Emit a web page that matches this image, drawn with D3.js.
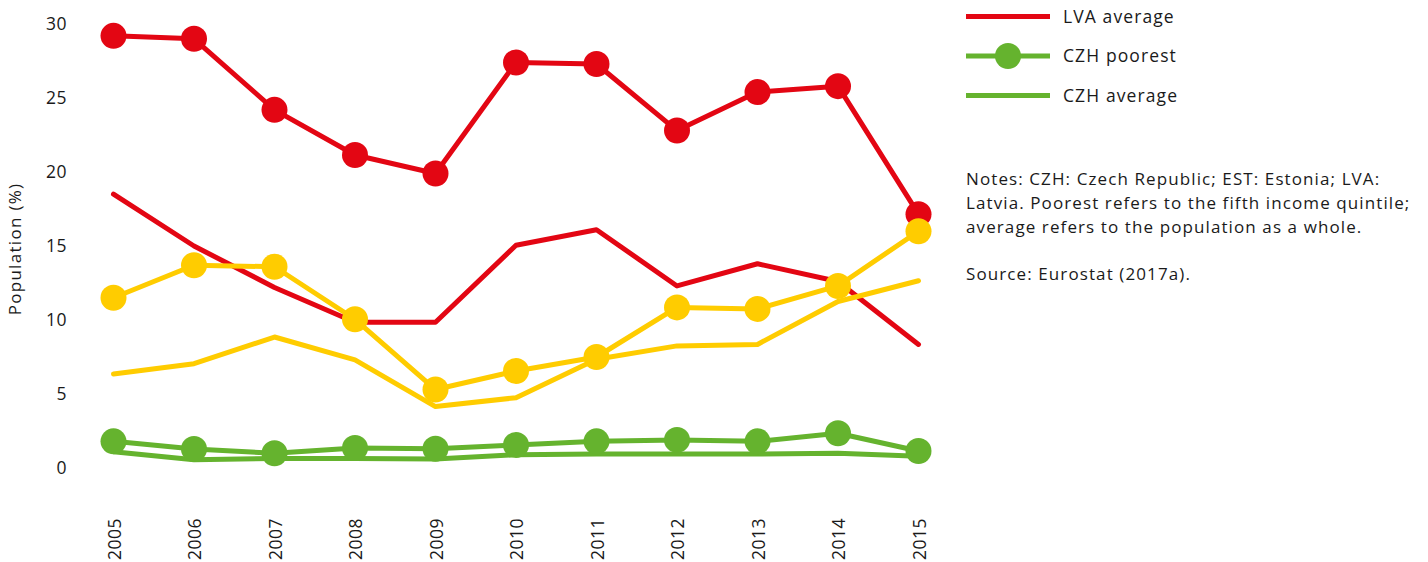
<!DOCTYPE html>
<html lang="en">
<head>
  <meta charset="UTF-8">
  <script src="https://cdn.jsdelivr.net/npm/d3@7"></script>
  <title>Population (%)</title>
  <style>
    body { margin: 0; background: #fff; }
    text { font-family: "Open Sans", "Noto Sans", sans-serif; fill: #1a1a1a; }
    .line { fill: none; stroke-width: 5; stroke-linejoin: round; stroke-linecap: round; }
  </style>
</head>
<body>
  <script>
    // data
    const years = [2005, 2006, 2007, 2008, 2009, 2010, 2011, 2012, 2013, 2014, 2015];
    const lvaPoorest = [29.2, 29.0, 24.2, 21.15, 19.9, 27.4, 27.3, 22.8, 25.4, 25.8, 17.15];
    const lvaAverage = [18.5, 15.0, 12.2, 9.85, 9.85, 15.05, 16.1, 12.3, 13.8, 12.6, 8.35];
    const estPoorest = [11.5, 13.7, 13.6, 10.05, 5.3, 6.55, 7.5, 10.85, 10.75, 12.3, 16.0];
    const estAverage = [6.35, 7.05, 8.85, 7.3, 4.15, 4.75, 7.35, 8.25, 8.35, 11.25, 12.65];
    const czhPoorest = [1.8, 1.28, 1.0, 1.35, 1.3, 1.55, 1.8, 1.9, 1.8, 2.35, 1.15];
    const czhAverage = [1.1, 0.55, 0.65, 0.65, 0.6, 0.9, 0.95, 0.95, 0.95, 1.0, 0.8];
    const yTicks = [0, 5, 10, 15, 20, 25, 30];

    const red = '#e30613', yellow = '#ffcc00', green = '#65b32e';

    // drawing order matters: later series sit on top
    const series = [
      { name: 'LVA average', values: lvaAverage, color: red, marker: false },
      { name: 'LVA poorest', values: lvaPoorest, color: red, marker: true },
      { name: 'EST average', values: estAverage, color: yellow, marker: false },
      { name: 'EST poorest', values: estPoorest, color: yellow, marker: true },
      { name: 'CZH average', values: czhAverage, color: green, marker: false },
      { name: 'CZH poorest', values: czhPoorest, color: green, marker: true }
    ];
    const legendItems = ['LVA average', 'CZH poorest', 'CZH average'];

    const svg = d3.select('body').append('svg')
      .attr('width', 1428)
      .attr('height', 562);

    const x = d3.scalePoint().domain(years).range([113.5, 918.5]);
    const y = d3.scaleLinear().domain([0, 30]).range([468, 24]);

    /********** y axis labels **********/
    svg.append('g').selectAll('text.ytick')
      .data(yTicks).enter()
      .append('text').attr('class', 'ytick')
      .attr('x', 67)
      .attr('y', d => y(d))
      .attr('dy', '0.35em')
      .attr('text-anchor', 'end')
      .style('font-size', '17.5px')
      .style('letter-spacing', '0.5px')
      .text(d => d);

    svg.append('text')
      .attr('transform', 'translate(15,249) rotate(-90)')
      .attr('text-anchor', 'middle')
      .attr('dy', '0.35em')
      .style('font-size', '17px')
      .style('letter-spacing', '1.3px')
      .text('Population (%)');

    /********** x axis labels **********/
    svg.append('g').selectAll('text.xtick')
      .data(years).enter()
      .append('text').attr('class', 'xtick')
      .attr('transform', d => `translate(${x(d) + 1},518) rotate(-90)`)
      .attr('text-anchor', 'end')
      .attr('dy', '0.35em')
      .style('font-size', '17.5px')
      .style('letter-spacing', '0.5px')
      .text(d => d);

    /********** lines + markers **********/
    const line = d3.line()
      .x((d, i) => x(years[i]))
      .y(d => y(d));

    series.forEach(s => {
      const g = svg.append('g');
      g.append('path').attr('class', 'line')
        .attr('d', line(s.values))
        .attr('stroke', s.color);
      if (s.marker) {
        g.selectAll('circle')
          .data(s.values).enter()
          .append('circle')
          .attr('cx', (d, i) => x(years[i]))
          .attr('cy', d => y(d))
          .attr('r', 13)
          .attr('fill', s.color);
      }
    });

    /********** legend **********/
    const lg = svg.selectAll('g.legend')
      .data(legendItems.map(n => series.find(s => s.name === n))).enter()
      .append('g').attr('class', 'legend')
      .attr('transform', (d, i) => `translate(966,${16.5 + i * 39.5})`);
    lg.append('line')
      .attr('x1', 0).attr('x2', 84)
      .attr('stroke', d => d.color)
      .attr('stroke-width', 5);
    lg.filter(d => d.marker).append('circle')
      .attr('cx', 42).attr('r', 13)
      .attr('fill', d => d.color);
    lg.append('text')
      .attr('x', 97)
      .attr('dy', '0.35em')
      .style('font-size', '17.5px')
      .style('letter-spacing', '1.1px')
      .text(d => d.name);

    /********** notes **********/
    const notes = [
      'Notes: CZH: Czech Republic; EST: Estonia; LVA:',
      'Latvia. Poorest refers to the fifth income quintile;',
      'average refers to the population as a whole.'
    ];
    svg.append('g').selectAll('text')
      .data(notes).enter()
      .append('text')
      .attr('x', 966)
      .attr('y', (d, i) => 179 + i * 24)
      .attr('dy', '0.35em')
      .style('font-size', '17px')
      .style('letter-spacing', '1.1px')
      .text(d => d);
    svg.append('text')
      .attr('x', 966).attr('y', 274.5)
      .attr('dy', '0.35em')
      .style('font-size', '17px')
      .style('letter-spacing', '1.1px')
      .text('Source: Eurostat (2017a).');
  </script>
</body>
</html>
